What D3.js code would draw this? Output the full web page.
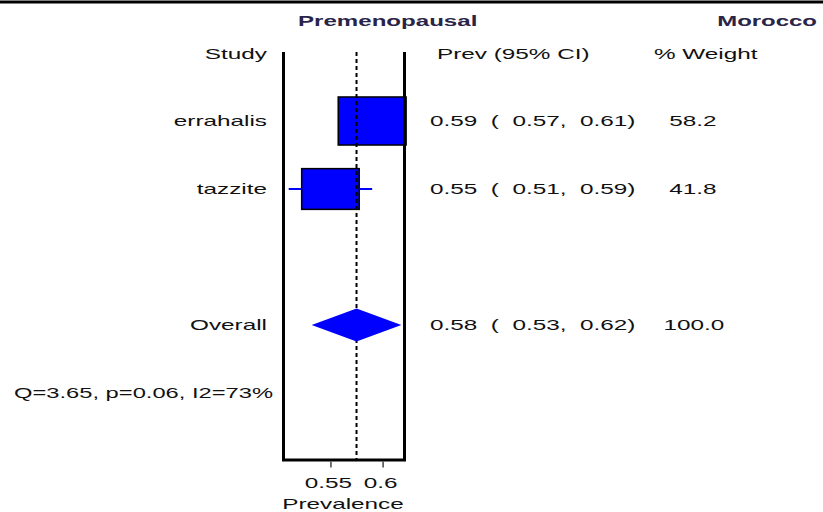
<!DOCTYPE html>
<html><head><meta charset="utf-8">
<script src="https://cdn.jsdelivr.net/npm/d3@7"></script>
<style>
html,body{margin:0;padding:0;background:#fff;}
svg text{font-family:"Liberation Sans",Arial,sans-serif;white-space:pre;}
</style></head>
<body><svg id="c" width="823" height="512"></svg>
<script>
// ---- data ----
const studies = ["errahalis", "tazzite"];
const prev = [0.59, 0.55];
const ciLow = [0.57, 0.51];
const ciHigh = [0.61, 0.59];
const weights = [58.2, 41.8];
const overallEst = 0.575, overallLow = 0.532, overallHigh = 0.618;
const overallShown = [0.58, 0.53, 0.62];
const overallWeight = 100.0;
const heterogeneity = "Q=3.65, p=0.06, I2=73%";
const tickValues = [0.55, 0.6];
const tickLabels = ["0.55", "0.6"];
const title = "Premenopausal", region = "Morocco";
const headers = ["Study", "Prev (95% CI)", "% Weight"];
const xTitle = "Prevalence";

// ---- drawing ----
const svg = d3.select("#c");
const STRETCH = 1.62;
const x = d3.scaleLinear().domain([0.505, 0.621]).range([283.5, 404.5]);
const y = d3.scaleLinear().domain([0, 1]).range([121, 189]);
const frameTop = 52, frameBottom = 460;
const f2 = d3.format(".2f"), f1 = d3.format(".1f");
const ciText = (e, l, h) => `${f2(e)}  (  ${f2(l)},  ${f2(h)})`;

function txt(s, px, py, anchor, opts = {}) {
  const t = svg.append("text").attr("x", px).attr("y", py)
    .attr("text-anchor", anchor).attr("font-size", opts.size || 15)
    .attr("font-weight", opts.weight || "normal")
    .attr("fill", opts.color || "#111").text(s);
  const len = t.node().getComputedTextLength();
  t.attr("textLength", len * (opts.stretch || STRETCH)).attr("lengthAdjust", "spacingAndGlyphs");
  return t;
}

// top rule
svg.append("line").attr("x1", 0).attr("x2", 823).attr("y1", 2).attr("y2", 2)
  .attr("stroke", "#000").attr("stroke-width", 3);

// titles
txt(title, 298, 26, "start", {size: 14, weight: "bold", color: "#2a2548", stretch: 1.72});
txt(region, 817, 26, "end", {size: 14, weight: "bold", color: "#2a2548", stretch: 1.71});

// headers
txt(headers[0], 267, 59, "end");
txt(headers[1], 437, 59, "start");
txt(headers[2], 654, 59, "start");

// CI lines
svg.selectAll(".ci").data(studies).enter().append("line")
  .attr("x1", (d, i) => x(ciLow[i])).attr("x2", (d, i) => x(ciHigh[i]))
  .attr("y1", (d, i) => y(i)).attr("y2", (d, i) => y(i))
  .attr("stroke", "#0000ff").attr("stroke-width", 2);

// boxes sized by weight
const bh = d3.scaleSqrt().domain([0, 100]).range([0, 63]);
const bw = d3.scaleSqrt().domain([0, 100]).range([0, 89]);
svg.selectAll(".box").data(studies).enter().append("rect")
  .attr("x", (d, i) => x(prev[i]) - bw(weights[i]) / 2)
  .attr("y", (d, i) => y(i) - bh(weights[i]) / 2)
  .attr("width", (d, i) => bw(weights[i]))
  .attr("height", (d, i) => bh(weights[i]))
  .attr("fill", "#0000ff").attr("stroke", "#000").attr("stroke-width", 1.5);

// overall dashed line (visible over boxes)
svg.append("line").attr("x1", x(overallEst)).attr("x2", x(overallEst))
  .attr("y1", frameTop).attr("y2", frameBottom)
  .attr("stroke", "#000").attr("stroke-width", 2).attr("stroke-dasharray", "4,3");

// diamond
const yo = y(3), dh = 16.5;
svg.append("path").attr("d",
  `M${x(overallLow)},${yo} L${x(overallEst)},${yo - dh} L${x(overallHigh)},${yo} L${x(overallEst)},${yo + dh} Z`)
  .attr("fill", "#0000ff");

// frame
svg.append("path").attr("d",
  `M${x.range()[0]},${frameTop} V${frameBottom} H${x.range()[1]} V${frameTop}`)
  .attr("fill", "none").attr("stroke", "#000").attr("stroke-width", 3);

// axis ticks
const ax = svg.append("g").attr("transform", `translate(0,${frameBottom + 1.5})`)
  .call(d3.axisBottom(x).tickValues(tickValues).tickSize(6).tickFormat(""));
ax.select(".domain").remove();
ax.selectAll(".tick line").attr("stroke", "#444").attr("stroke-width", 1.5);
tickValues.forEach((v, i) => txt(tickLabels[i], x(v) - 2, 488, "middle"));
txt(xTitle, (x.range()[0] + x.range()[1]) / 2 - 1, 509, "middle");

// study rows
studies.forEach((s, i) => {
  txt(s, 267, y(i), "end").attr("dy", "0.35em");
  txt(ciText(prev[i], ciLow[i], ciHigh[i]), 430, y(i), "start").attr("dy", "0.35em");
  txt(f1(weights[i]), 693, y(i), "middle").attr("dy", "0.35em");
});
txt("Overall", 267, yo, "end").attr("dy", "0.35em");
txt(ciText(...overallShown), 430, yo, "start").attr("dy", "0.35em");
txt(f1(overallWeight), 694, yo, "middle").attr("dy", "0.35em");
txt(heterogeneity, 273, y(4), "end", {stretch: 1.58}).attr("dy", "0.35em");
</script></body></html>
